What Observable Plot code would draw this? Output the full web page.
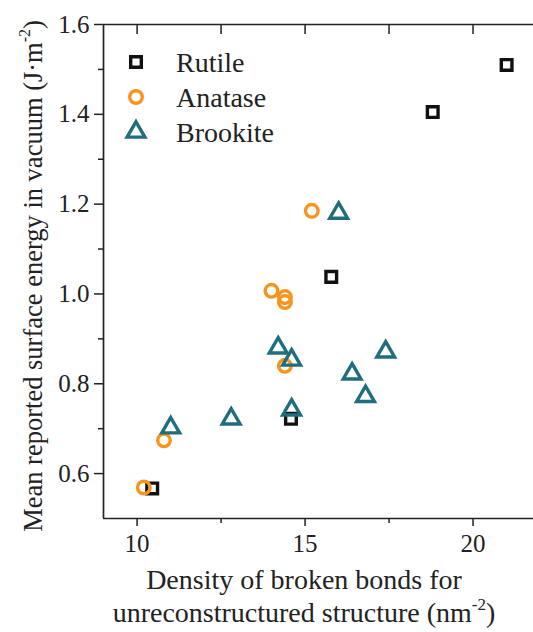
<!DOCTYPE html>
<html>
<head>
<meta charset="utf-8">
<script src="https://cdn.jsdelivr.net/npm/d3@7"></script>
<script src="https://cdn.jsdelivr.net/npm/@observablehq/plot@0.6"></script>
<style>
  html, body { margin: 0; padding: 0; background: #fff; }
  #chart { position: relative; width: 533px; height: 632px; }
  #chart svg, #chart svg text, #chart svg tspan { font-family: "Liberation Serif", "Times New Roman", Times, serif !important; }
</style>
</head>
<body>
<div id="chart"></div>
<script>
// ---- data ----
const seriesNames = ["Rutile", "Anatase", "Brookite"];
const seriesColors = ["#111111", "#F7941D", "#1F6E7E"];
const seriesSymbols = ["square", "circle", "triangle"];

const rutileX = [10.45, 14.58, 15.78, 18.8, 21.0];
const rutileY = [0.567, 0.722, 1.038, 1.405, 1.51];

const anataseX = [10.2, 10.8, 14.0, 14.4, 14.4, 14.4, 15.2];
const anataseY = [0.569, 0.674, 1.007, 0.993, 0.982, 0.84, 1.185];

const brookiteX = [11.0, 12.8, 14.2, 14.6, 14.6, 16.0, 16.4, 16.8, 17.4];
const brookiteY = [0.702, 0.722, 0.88, 0.853, 0.742, 1.18, 0.822, 0.772, 0.871];

const xMajorTicks = [10, 15, 20];
const xMinorTicks = [12.5, 17.5];
const yMajorTicks = [0.6, 0.8, 1.0, 1.2, 1.4, 1.6];
const yMinorTicks = [0.7, 0.9, 1.1, 1.3, 1.5];

const xDomain = [9, 21.8];
const yDomain = [0.5, 1.6];

// ---- build ----
const toRows = (xs, ys) => xs.map((x, i) => ({x, y: ys[i]}));
const series = [toRows(rutileX, rutileY), toRows(anataseX, anataseY), toRows(brookiteX, brookiteY)];

const FONT = "Liberation Serif";
const AX = "#222";
const blank = () => "";
const rMap = [6, 6.3, 6.6];
const SW = 3.4;

const dotMarks = series.map((rows, i) => Plot.dot(rows, {
  x: "x", y: "y", symbol: seriesSymbols[i], r: rMap[i],
  stroke: seriesColors[i], strokeWidth: SW, fill: "none"
}));

const svg = Plot.plot({
  width: 533, height: 632,
  marginLeft: 103, marginRight: 0, marginTop: 24, marginBottom: 114,
  style: {fontFamily: FONT, fontSize: "24px", color: "#222", background: "#fff"},
  x: {domain: xDomain},
  y: {domain: yDomain},
  marks: [
    Plot.axisX({ticks: xMajorTicks, tickSize: 8, tickPadding: 8, tickFormat: d3.format("d"), label: null, stroke: AX, strokeWidth: 1.5, fontSize: 25, fontFamily: FONT}),
    Plot.axisX({ticks: xMinorTicks, tickSize: 5, tickFormat: blank, label: null, stroke: AX, strokeWidth: 1.5}),
    Plot.axisX({anchor: "top", ticks: xMajorTicks.concat(xMinorTicks), tickSize: -9, tickFormat: blank, label: null, stroke: AX, strokeWidth: 1.5}),
    Plot.axisY({ticks: yMajorTicks, tickSize: 9, tickPadding: 5, tickFormat: d3.format(".1f"), label: null, stroke: AX, strokeWidth: 1.5, fontSize: 25, fontFamily: FONT}),
    Plot.axisY({ticks: yMinorTicks, tickSize: 5, tickFormat: blank, label: null, stroke: AX, strokeWidth: 1.5}),
    Plot.ruleY([yDomain[0]], {stroke: AX, strokeWidth: 1.7}),
    Plot.ruleY([yDomain[1]], {stroke: AX, strokeWidth: 1.7}),
    Plot.ruleX([xDomain[0]], {stroke: AX, strokeWidth: 1.7}),
    ...dotMarks
  ]
});

document.getElementById("chart").appendChild(svg);

// ---- axis titles ----
const s = d3.select(svg);
const xt = s.append("text")
  .attr("font-family", FONT).attr("font-size", 28).attr("fill", "#222")
  .attr("text-anchor", "middle");
xt.append("tspan").attr("x", 304).attr("y", 589).text("Density of broken bonds for");
const xt2 = xt.append("tspan").attr("x", 304).attr("y", 622);
xt2.append("tspan").text("unreconstructured structure (nm");
xt2.append("tspan").attr("font-size", 17).attr("dy", -12).text("-2");
xt2.append("tspan").attr("dy", 12).text(")");

const yt = s.append("text")
  .attr("font-family", FONT).attr("font-size", 26.5).attr("fill", "#222")
  .attr("text-anchor", "middle")
  .attr("transform", "translate(42,276) rotate(-90)");
yt.append("tspan").text("Mean reported surface energy in vacuum (J·m");
yt.append("tspan").attr("font-size", 16).attr("dy", -12).text("-2");
yt.append("tspan").attr("dy", 12).text(")");

// ---- legend ----
const lg = s.append("g").attr("font-family", FONT).attr("font-size", 28).attr("fill", "#222");
const symMap = {square: d3.symbolSquare, circle: d3.symbolCircle, triangle: d3.symbolTriangle};
seriesNames.forEach((name, i) => {
  const cy = 62 + i * 35;
  lg.append("path")
    .attr("d", d3.symbol(symMap[seriesSymbols[i]], Math.PI * rMap[i] * rMap[i])())
    .attr("transform", `translate(136,${cy})`)
    .attr("fill", "none").attr("stroke", seriesColors[i]).attr("stroke-width", SW);
  lg.append("text").attr("x", 176).attr("y", cy).attr("dy", "0.34em")
    .attr("text-anchor", "start").text(name);
});
</script>
</body>
</html>
